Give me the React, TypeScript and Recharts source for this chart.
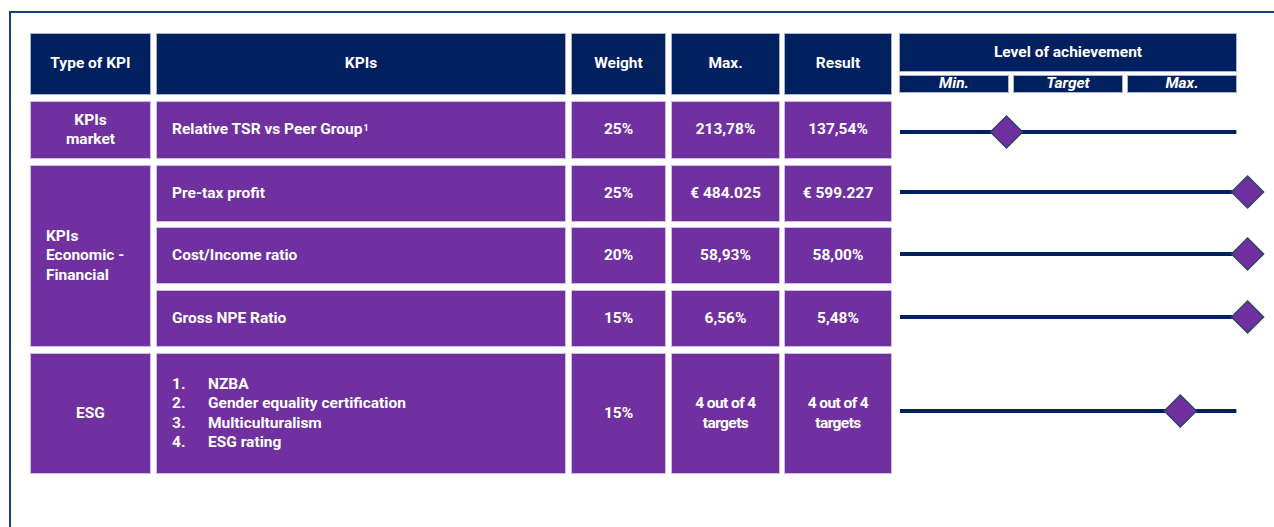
import React from "react";
import { ScatterChart, Scatter, XAxis, YAxis } from "recharts";

// table content
const kpiTypes = ["KPIs\nmarket", "KPIs\nEconomic -\nFinancial", "ESG"];
const kpiNames = ["Relative TSR vs Peer Group", "Pre-tax profit", "Cost/Income ratio", "Gross NPE Ratio", ""];
const esgTargets = ["NZBA", "Gender equality certification", "Multiculturalism", "ESG rating"];
const weights = ["25%", "25%", "20%", "15%", "15%"];
const maxValues = ["213,78%", "€ 484.025", "58,93%", "6,56%", "4 out of 4\ntargets"];
const results = ["137,54%", "€ 599.227", "58,00%", "5,48%", "4 out of 4\ntargets"];
const levelLabels = ["Min.", "Target", "Max."];
// position on the Min (0) .. Max (3) scale
const achievement = [0.95, 3.1, 3.1, 3.1, 2.5];
const trackEnds = [0, 3];

const NAVY = "#002060";
const PURPLE = "#7030a0";
const FONT = "Roboto, 'Noto Sans', sans-serif";

// layout
const cols = [
  { x: 30, w: 121 },
  { x: 156, w: 410 },
  { x: 571, w: 95 },
  { x: 671, w: 109 },
  { x: 784, w: 108 },
];
const rowTop = [101, 165, 227, 290, 353];
const rowH = [58, 57, 57, 57, 121];
const trackY = [132, 192, 254, 317, 411];

const cellBase: React.CSSProperties = {
  position: "absolute",
  boxSizing: "border-box",
  color: "#fff",
  fontFamily: FONT,
  fontWeight: 700,
  fontSize: 15.5,
  display: "flex",
  alignItems: "center",
  justifyContent: "center",
  textAlign: "center",
  lineHeight: "19.5px",
  whiteSpace: "pre-line",
};

function Cell({ x, y, w, h, bg, children, style }: any) {
  return (
    <div
      style={{
        ...cellBase,
        left: x,
        top: y,
        width: w,
        height: h,
        background: bg,
        border: `1px solid ${bg === NAVY ? "#a9b3cb" : "#cdbfe2"}`,
        ...style,
      }}
    >
      {children}
    </div>
  );
}

const Diamond = (props: any) => {
  const { cx, cy } = props;
  const r = 16;
  return (
    <polygon
      points={`${cx},${cy - r} ${cx + r},${cy} ${cx},${cy + r} ${cx - r},${cy}`}
      fill={PURPLE}
      stroke="#2c4561"
      strokeWidth={1.5}
    />
  );
};

function AchievementRow({ value, top }: { value: number; top: number }) {
  const track = trackEnds.map((x) => ({ x, y: 0 }));
  return (
    <div style={{ position: "absolute", left: 899, top: top - 30 }}>
      <ScatterChart width={371} height={60} margin={{ top: 0, right: 0, bottom: 0, left: 1 }}>
        <XAxis type="number" dataKey="x" domain={[0, 3.3]} hide />
        <YAxis type="number" dataKey="y" domain={[-1, 1]} hide />
        <Scatter
          data={track}
          line={{ stroke: NAVY, strokeWidth: 4 }}
          shape={() => <g />}
          isAnimationActive={false}
        />
        <Scatter data={[{ x: value, y: 0 }]} shape={<Diamond />} isAnimationActive={false} />
      </ScatterChart>
    </div>
  );
}

export default function App() {
  const headers = ["Type of KPI", "KPIs", "Weight", "Max.", "Result"];
  return (
    <div
      style={{
        position: "absolute",
        left: 0,
        top: 0,
        width: 1274,
        height: 527,
        background: "#fff",
        overflow: "hidden",
      }}
    >
      {/* frame */}
      <div style={{ position: "absolute", left: 9, top: 11, width: 1265, height: 2, background: "#1d3a7c" }} />
      <div style={{ position: "absolute", left: 9, top: 11, width: 2, height: 516, background: "#1d3a7c" }} />

      {/* header */}
      {headers.map((h, i) => (
        <Cell key={h} x={cols[i].x} y={33} w={cols[i].w} h={62} bg={NAVY}>
          {h}
        </Cell>
      ))}
      <Cell x={899} y={33} w={338} h={39} bg={NAVY}>
        Level of achievement
      </Cell>
      {levelLabels.map((l, i) => (
        <Cell
          key={l}
          x={899 + i * 114}
          y={75}
          w={110}
          h={18}
          bg={NAVY}
          style={{ fontStyle: "italic" }}
        >
          {l}
        </Cell>
      ))}

      {/* type of KPI column */}
      <Cell x={cols[0].x} y={rowTop[0]} w={cols[0].w} h={rowH[0]} bg={PURPLE}>
        {kpiTypes[0]}
      </Cell>
      <Cell
        x={cols[0].x}
        y={rowTop[1]}
        w={cols[0].w}
        h={rowTop[3] + rowH[3] - rowTop[1]}
        bg={PURPLE}
        style={{ justifyContent: "flex-start", textAlign: "left", paddingLeft: 15 }}
      >
        {kpiTypes[1]}
      </Cell>
      <Cell x={cols[0].x} y={rowTop[4]} w={cols[0].w} h={rowH[4]} bg={PURPLE}>
        {kpiTypes[2]}
      </Cell>

      {/* KPI rows */}
      {rowTop.map((top, r) => (
        <React.Fragment key={r}>
          <Cell
            x={cols[1].x}
            y={top}
            w={cols[1].w}
            h={rowH[r]}
            bg={PURPLE}
            style={{ justifyContent: "flex-start", textAlign: "left", paddingLeft: 15 }}
          >
            {r < 4 ? (
              <span>
                {kpiNames[r]}
                {r === 0 && (
                  <sup style={{ fontSize: 9, verticalAlign: 3, lineHeight: 0, marginLeft: 1 }}>1</sup>
                )}
              </span>
            ) : (
              <div style={{ display: "flex", flexDirection: "column" }}>
                {esgTargets.map((t, i) => (
                  <div key={t} style={{ display: "flex" }}>
                    <span style={{ width: 36 }}>{i + 1}.</span>
                    <span>{t}</span>
                  </div>
                ))}
              </div>
            )}
          </Cell>
          <Cell x={cols[2].x} y={top} w={cols[2].w} h={rowH[r]} bg={PURPLE}>
            {weights[r]}
          </Cell>
          <Cell
            x={cols[3].x}
            y={top}
            w={cols[3].w}
            h={rowH[r]}
            bg={PURPLE}
            style={r === 4 ? { letterSpacing: -0.6 } : undefined}
          >
            {maxValues[r]}
          </Cell>
          <Cell
            x={cols[4].x}
            y={top}
            w={cols[4].w}
            h={rowH[r]}
            bg={PURPLE}
            style={r === 4 ? { letterSpacing: -0.6 } : undefined}
          >
            {results[r]}
          </Cell>
          <AchievementRow value={achievement[r]} top={trackY[r]} />
        </React.Fragment>
      ))}
    </div>
  );
}
